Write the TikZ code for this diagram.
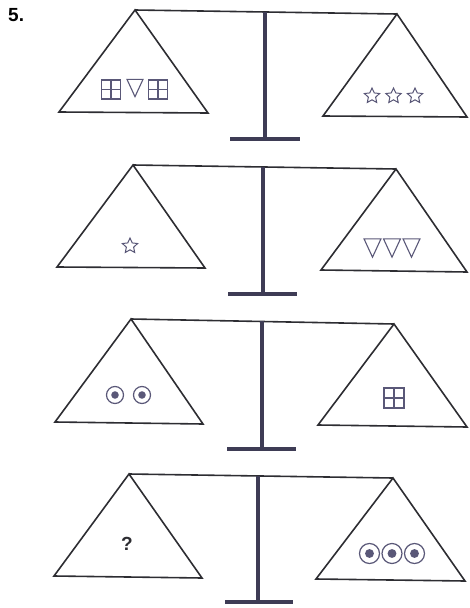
\documentclass[tikz,border=0pt]{standalone}
\usepackage{fontspec}
\newfontfamily\labelfont{Liberation Sans}
\usetikzlibrary{positioning, shapes.geometric}

\definecolor{linegrey}{RGB}{45,45,50}
\definecolor{postblue}{RGB}{62,60,85}
\definecolor{weightink}{RGB}{90,88,120}

\begin{document}
\begin{tikzpicture}[x=1pt, y=-1pt,
  pan/.style={draw=linegrey, line width=1.6pt, line join=miter},
  beam/.style={draw=linegrey, line width=1.6pt},
  post/.style={draw=postblue, line width=3.6pt},
  foot/.style={draw=postblue, line width=4pt},
  boxwt/.style={draw=weightink, line width=1.1pt, minimum size=#1, inner sep=0pt,
    path picture={\draw[weightink, line width=1.1pt]
      (path picture bounding box.north) -- (path picture bounding box.south)
      (path picture bounding box.west) -- (path picture bounding box.east);}},
  triwt/.style={draw=weightink, line width=1.1pt, regular polygon, regular polygon sides=3,
    shape border rotate=180, minimum size=#1, inner sep=0pt, yscale=1.25},
  starwt/.style={draw=weightink, line width=1pt, star, star points=5, star point ratio=2.1,
    minimum size=#1, inner sep=0pt},
  dotwt/.style={draw=weightink, line width=1.2pt, circle, minimum size=#1, inner sep=0pt,
    path picture={\fill[weightink] (path picture bounding box.center) circle [radius=#1/4.5];}},
  qmark/.style={font=\labelfont\bfseries\fontsize{19}{19}\selectfont, text=linegrey, inner sep=0pt}
]
  \useasboundingbox (0,0) rectangle (469,608);
  \node[font=\labelfont\bfseries\fontsize{19}{19}\selectfont, anchor=west, inner sep=0pt] (num) at (8,15) {5.};

  % scale 1
  \coordinate (la1) at (135,10);  \coordinate (ra1) at (397,14);
  \coordinate (lb1) at (59,112);  \coordinate (lc1) at (208,113);
  \coordinate (rb1) at (323,116); \coordinate (rc1) at (467,117);
  \coordinate (pt1) at (265,12);  \coordinate (pb1) at (265,139);
  \coordinate (fl1) at (230,139); \coordinate (fr1) at (300,139);
  \draw[beam] (la1) -- (ra1);
  \draw[pan] (la1) -- (lb1) -- (lc1) -- cycle;
  \draw[pan] (ra1) -- (rb1) -- (rc1) -- cycle;
  \draw[post] (pt1) -- (pb1);
  \draw[foot] (fl1) -- (fr1);
  \node[boxwt=19pt] (sq1a) at (111,89.5) {};
  \node[triwt=18.5pt, on grid, right=24pt of sq1a, yshift=3.5pt] (tri1) {};
  \node[boxwt=19pt, on grid, right=47pt of sq1a] (sq1b) {};
  \node[starwt=16pt] (st1a) at (372,96) {};
  \node[starwt=16pt, on grid, right=21.5pt of st1a] (st1b) {};
  \node[starwt=16pt, on grid, right=21.5pt of st1b] (st1c) {};

  % scale 2
  \coordinate (la2) at (133,165); \coordinate (ra2) at (396,169);
  \coordinate (lb2) at (57,267);  \coordinate (lc2) at (205,268);
  \coordinate (rb2) at (321,270); \coordinate (rc2) at (467,272);
  \coordinate (pt2) at (263,167); \coordinate (pb2) at (263,294);
  \coordinate (fl2) at (228,294); \coordinate (fr2) at (297,294);
  \draw[beam] (la2) -- (ra2);
  \draw[pan] (la2) -- (lb2) -- (lc2) -- cycle;
  \draw[pan] (ra2) -- (rb2) -- (rc2) -- cycle;
  \draw[post] (pt2) -- (pb2);
  \draw[foot] (fl2) -- (fr2);
  \node[starwt=16pt] (st2) at (130,246) {};
  \node[triwt=19.5pt] (tri2a) at (372.5,245) {};
  \node[triwt=19.5pt, on grid, right=19.5pt of tri2a] (tri2b) {};
  \node[triwt=19.5pt, on grid, right=19.5pt of tri2b] (tri2c) {};

  % scale 3
  \coordinate (la3) at (131,319); \coordinate (ra3) at (394,324);
  \coordinate (lb3) at (55,422);  \coordinate (lc3) at (203,424);
  \coordinate (rb3) at (318,425); \coordinate (rc3) at (467,427);
  \coordinate (pt3) at (262,321); \coordinate (pb3) at (262,449);
  \coordinate (fl3) at (227,449); \coordinate (fr3) at (296,449);
  \draw[beam] (la3) -- (ra3);
  \draw[pan] (la3) -- (lb3) -- (lc3) -- cycle;
  \draw[pan] (ra3) -- (rb3) -- (rc3) -- cycle;
  \draw[post] (pt3) -- (pb3);
  \draw[foot] (fl3) -- (fr3);
  \node[dotwt=17pt] (dot3a) at (115,395) {};
  \node[dotwt=17pt, on grid, right=27pt of dot3a] (dot3b) {};
  \node[boxwt=20pt] (sq3) at (394,398) {};

  % scale 4
  \coordinate (la4) at (129,474); \coordinate (ra4) at (393,478);
  \coordinate (lb4) at (54,576);  \coordinate (lc4) at (202,578);
  \coordinate (rb4) at (316,579); \coordinate (rc4) at (465,581);
  \coordinate (pt4) at (258,476); \coordinate (pb4) at (258,602);
  \coordinate (fl4) at (225,602); \coordinate (fr4) at (293,602);
  \draw[beam] (la4) -- (ra4);
  \draw[pan] (la4) -- (lb4) -- (lc4) -- cycle;
  \draw[pan] (ra4) -- (rb4) -- (rc4) -- cycle;
  \draw[post] (pt4) -- (pb4);
  \draw[foot] (fl4) -- (fr4);
  \node[qmark] (ask) at (127,544) {?};
  \node[dotwt=20pt] (dot4a) at (369.5,553.5) {};
  \node[dotwt=20pt, on grid, right=22.5pt of dot4a] (dot4b) {};
  \node[dotwt=20pt, on grid, right=22.5pt of dot4b] (dot4c) {};
\end{tikzpicture}
\end{document}
